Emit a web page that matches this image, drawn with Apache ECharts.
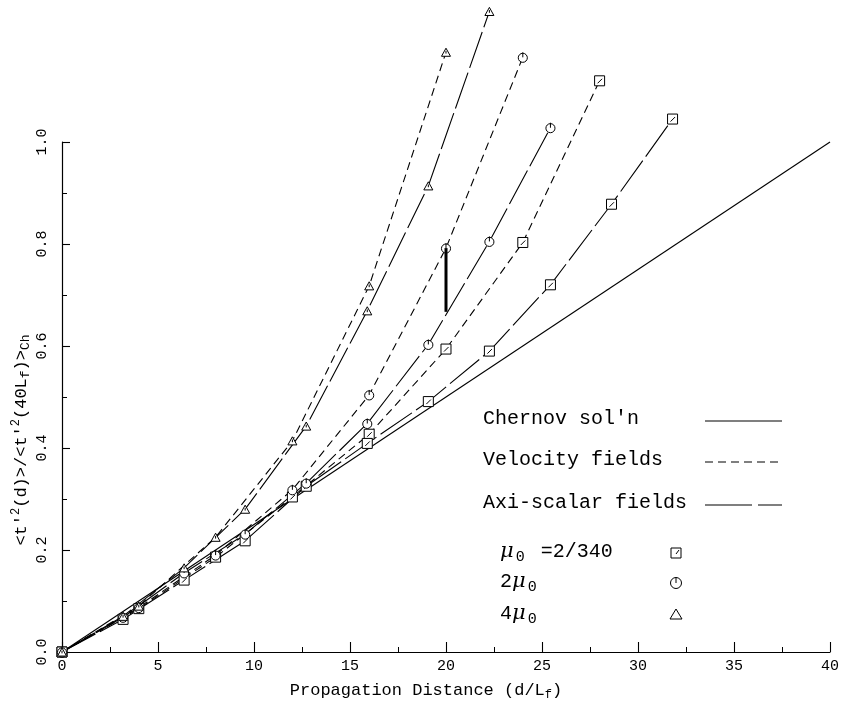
<!DOCTYPE html>
<html>
<head>
<meta charset="utf-8">
<script src="https://cdn.jsdelivr.net/npm/echarts@6/dist/echarts.min.js"></script>
<style>
html,body{margin:0;padding:0;background:#fff;}
#chart{width:842px;height:704px;}
</style>
</head>
<body>
<div id="chart"></div>
<script>
// ---- data ----
const axiX = [0, 3.18, 6.36, 9.54, 12.72, 15.9, 19.08, 22.26, 25.44, 28.62, 31.8];
const velX = [0, 4, 8, 12, 16, 20, 24, 28];

const axiSquare   = [0, 0.064, 0.141, 0.218, 0.325, 0.409, 0.491, 0.590, 0.720, 0.878, 1.045];
const axiCircle   = [0, 0.068, 0.155, 0.231, 0.331, 0.448, 0.603, 0.805, 1.028];
const axiTriangle = [0, 0.070, 0.165, 0.280, 0.443, 0.669, 0.914, 1.256];

const velSquare   = [0, 0.085, 0.186, 0.304, 0.427, 0.594, 0.803, 1.120];
const velCircle   = [0, 0.087, 0.190, 0.318, 0.504, 0.792, 1.166];
const velTriangle = [0, 0.090, 0.225, 0.414, 0.718, 1.176];

const chernovX = [0, 40];
const chernovY = [0, 1.0];

const errorBarX = [20, 20];
const errorBarY = [0.667, 0.792];

const xTickLabels = ['0', '5', '10', '15', '20', '25', '30', '35', '40'];
const yTickLabels = ['0.0', '0.2', '0.4', '0.6', '0.8', '1.0'];

const legendLines = ["Chernov sol'n", 'Velocity fields', 'Axi-scalar fields'];
const legendMu = ['=2/340', '2', '4'];

// ---- helpers ----
const FONT = 'Liberation Mono';
const SQUARE = 'path://M0,0H10V10H0Z M3,7.5L7.5,3';
const CIRCLE = 'path://M0,6A5,5,0,1,0,10,6A5,5,0,1,0,0,6Z M5,0L5,5.5';
const TRI = 'path://M5,0L10,9H0Z M5,3L5,6';
const VEL_DASH = [8, 5];
const AXI_DASH = [38, 5];

function pairs(xs, ys) { return ys.map((y, i) => [xs[i], y]); }

function dataSeries(name, xs, ys, symbol, dash, size) {
  return {
    name: name,
    type: 'line',
    data: pairs(xs, ys),
    clip: false,
    symbol: symbol,
    symbolSize: size || 10,
    symbolKeepAspect: true,
    showAllSymbol: true,
    itemStyle: { color: '#fff', borderColor: '#000', borderWidth: 1 },
    lineStyle: { color: '#000', width: 1.1, type: dash },
    emphasis: { disabled: true },
    z: 3
  };
}

const chart = echarts.init(document.getElementById('chart'), null, { renderer: 'canvas' });

const legendX = 483, legendLineX0 = 705, legendLineX1 = 782;
const legendY = [421, 462, 505];
const muY = [553, 583, 615];
const muX = 500, muSymX = 676;

const graphics = [];
legendLines.forEach((t, i) => {
  graphics.push({
    type: 'text', left: legendX, top: legendY[i] - 12,
    style: { text: t, font: '20px "' + FONT + '"', fill: '#000' }
  });
});
graphics.push({ type: 'line', shape: { x1: legendLineX0, y1: legendY[0], x2: legendLineX1, y2: legendY[0] }, style: { stroke: '#000', lineWidth: 1.1 } });
graphics.push({ type: 'line', shape: { x1: legendLineX0, y1: legendY[1], x2: legendLineX1, y2: legendY[1] }, style: { stroke: '#000', lineWidth: 1.1, lineDash: VEL_DASH } });
graphics.push({ type: 'line', shape: { x1: legendLineX0, y1: legendY[2], x2: legendLineX1, y2: legendY[2] }, style: { stroke: '#000', lineWidth: 1.1, lineDash: [47, 6] } });

// mu labels
function muLabel(prefix, suffix, y) {
  graphics.push({
    type: 'text', left: muX, top: y - 12,
    style: {
      text: (prefix ? '{n|' + prefix + '}' : '') + '{mu|\u03bc}{sub|0}' + (suffix ? '{n| ' + suffix + '}' : ''),
      rich: {
        n: { font: '20px "' + FONT + '"', fill: '#000' },
        mu: { font: 'italic 21px "DejaVu Serif"', fill: '#000' },
        sub: { font: '15px "' + FONT + '"', fill: '#000', padding: [12, 4, 0, 2] }
      }
    }
  });
}
muLabel('', legendMu[0], muY[0]);
muLabel(legendMu[1], '', muY[1]);
muLabel(legendMu[2], '', muY[2]);
// legend symbols
graphics.push({ type: 'rect', shape: { x: muSymX - 5, y: muY[0] - 5, width: 10, height: 10 }, style: { fill: '#fff', stroke: '#000', lineWidth: 1 } });
graphics.push({ type: 'line', shape: { x1: muSymX, y1: muY[0] + 1, x2: muSymX + 3, y2: muY[0] - 3 }, style: { stroke: '#000', lineWidth: 1 } });
graphics.push({ type: 'circle', shape: { cx: muSymX, cy: muY[1], r: 5.5 }, style: { fill: '#fff', stroke: '#000', lineWidth: 1 } });
graphics.push({ type: 'line', shape: { x1: muSymX, y1: muY[1] - 5.5, x2: muSymX, y2: muY[1] }, style: { stroke: '#000', lineWidth: 1 } });
graphics.push({ type: 'polygon', shape: { points: [[muSymX, muY[2] - 6], [muSymX + 6, muY[2] + 4], [muSymX - 6, muY[2] + 4]] }, style: { fill: '#fff', stroke: '#000', lineWidth: 1 } });

// y-axis title (rotated)
graphics.push({
  type: 'text', x: 21, y: 440, rotation: Math.PI / 2,
  style: {
    text: "{n|<t'}{sup|2}{n|(d)>/<t'}{sup|2}{n|(40L}{sub|f}{n|)>}{sub|Ch}",
    align: 'center', verticalAlign: 'middle',
    rich: {
      n: { font: '17px "' + FONT + '"', fill: '#000' },
      sup: { font: '12px "' + FONT + '"', fill: '#000', padding: [0, 0, 10, 0] },
      sub: { font: '13px "' + FONT + '"', fill: '#000', padding: [10, 0, 0, 0] }
    }
  }
});
// x-axis title
graphics.push({
  type: 'text', x: 426, y: 690,
  style: {
    text: '{n|Propagation Distance (d/L}{sub|f}{n|)}',
    align: 'center', verticalAlign: 'middle',
    rich: {
      n: { font: '17px "' + FONT + '"', fill: '#000' },
      sub: { font: '12px "' + FONT + '"', fill: '#000', padding: [9, 0, 0, 0] }
    }
  }
});

const option = {
  backgroundColor: '#fff',
  animation: false,
  grid: { left: 62, right: 12, top: 142, bottom: 52, containLabel: false },
  xAxis: {
    type: 'value', min: 0, max: 40, interval: 5,
    axisLine: { show: true, onZero: false, lineStyle: { color: '#000', width: 1.2 } },
    axisTick: { show: true, inside: true, length: 10, lineStyle: { color: '#000', width: 1.1 } },
    minorTick: { show: true, splitNumber: 2, length: 5, lineStyle: { color: '#000', width: 1 } },
    splitLine: { show: false },
    axisLabel: {
      color: '#000', fontFamily: FONT, fontSize: 15, margin: 7,
      formatter: (v) => xTickLabels[Math.round(v / 5)]
    }
  },
  yAxis: {
    type: 'value', min: 0, max: 1.0, interval: 0.2,
    axisLine: { show: true, onZero: false, lineStyle: { color: '#000', width: 1.2 } },
    axisTick: { show: true, inside: true, length: 8, lineStyle: { color: '#000', width: 1.1 } },
    minorTick: { show: true, splitNumber: 2, length: 5, lineStyle: { color: '#000', width: 1 } },
    splitLine: { show: false },
    axisLabel: {
      color: '#000', fontFamily: FONT, fontSize: 15, margin: 12, rotate: 90,
      formatter: (v) => yTickLabels[Math.round(v / 0.2)]
    }
  },
  graphic: graphics,
  series: [
    {
      name: "Chernov sol'n", type: 'line', data: pairs(chernovX, chernovY),
      symbol: 'none', clip: false,
      lineStyle: { color: '#000', width: 1.1, type: 'solid' }, z: 2
    },
    dataSeries('Velocity \u03bc0', velX, velSquare, SQUARE, VEL_DASH),
    dataSeries('Velocity 2\u03bc0', velX, velCircle, CIRCLE, VEL_DASH),
    dataSeries('Velocity 4\u03bc0', velX, velTriangle, TRI, VEL_DASH, 9),
    dataSeries('Axi-scalar \u03bc0', axiX, axiSquare, SQUARE, AXI_DASH),
    dataSeries('Axi-scalar 2\u03bc0', axiX, axiCircle, CIRCLE, AXI_DASH),
    dataSeries('Axi-scalar 4\u03bc0', axiX, axiTriangle, TRI, AXI_DASH, 9),
    {
      name: 'error bar', type: 'line', data: pairs(errorBarX, errorBarY),
      symbol: 'none', clip: false,
      lineStyle: { color: '#000', width: 3 }, z: 4
    }
  ]
};
chart.setOption(option);
</script>
</body>
</html>
